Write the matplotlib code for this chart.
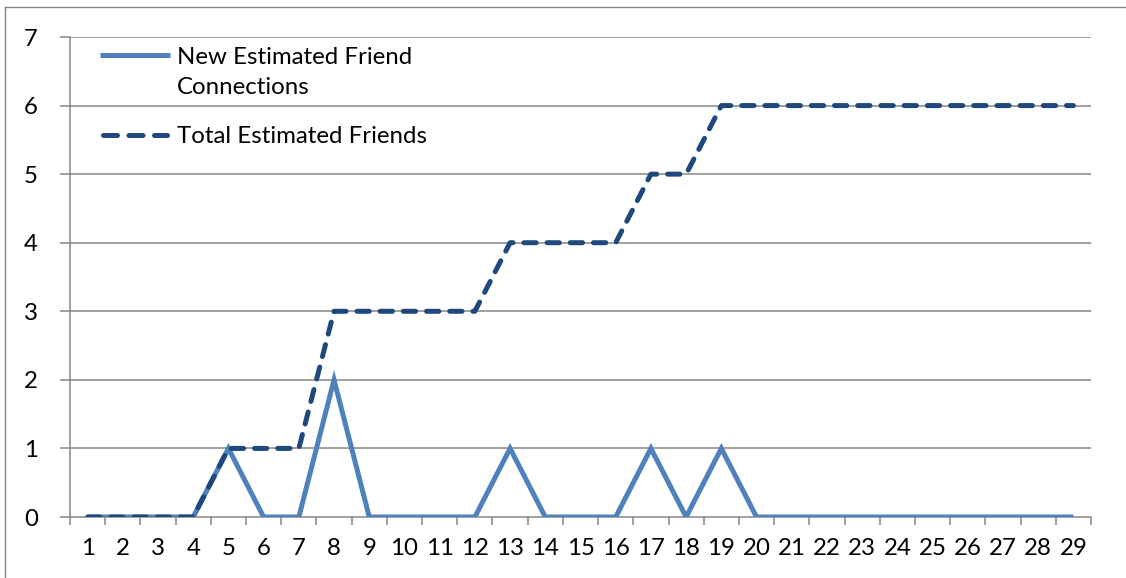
import matplotlib
matplotlib.use("Agg")
import matplotlib.pyplot as plt
from matplotlib.lines import Line2D
from matplotlib.ticker import FixedLocator

plt.rcParams['font.family'] = ['Lato', 'DejaVu Sans']

days = list(range(1, 30))
new_connections = [0, 0, 0, 0, 1, 0, 0, 2, 0, 0, 0, 0, 1, 0, 0, 0, 1, 0, 1, 0,
                   0, 0, 0, 0, 0, 0, 0, 0, 0]
total_friends = [0, 0, 0, 0, 1, 1, 1, 3, 3, 3, 3, 3, 4, 4, 4, 4, 5, 5, 6, 6,
                 6, 6, 6, 6, 6, 6, 6, 6, 6]
y_ticks = [0, 1, 2, 3, 4, 5, 6, 7]
series_labels = ['New Estimated Friend\nConnections', 'Total Estimated Friends']

W, H = 1126, 578
FS = 17.3
LW = 3.6
fig = plt.figure(figsize=(W / 100, H / 100), dpi=100)
fig.patch.set_facecolor('white')

# outer chart border (left and top edges visible)
fig.add_artist(Line2D([5 / W, 5 / W], [0, 1 - 7 / H], transform=fig.transFigure,
                      color='#868686', lw=1.0))
fig.add_artist(Line2D([5 / W, 1], [1 - 7 / H, 1 - 7 / H], transform=fig.transFigure,
                      color='#868686', lw=1.0))

ax = fig.add_axes([70 / W, 61 / H, (1091 - 70) / W, (517 - 37) / H])
ax.set_xlim(0.5, 29.5)
ax.set_ylim(0, 7)

grid_c = '#868686'
for y in y_ticks[1:]:
    ax.axhline(y, color=grid_c, lw=1.1, zorder=1)

for s in ['top', 'right']:
    ax.spines[s].set_visible(False)
for s in ['left', 'bottom']:
    ax.spines[s].set_color(grid_c)
    ax.spines[s].set_linewidth(1.1)

solid_style = dict(color='#4F81BD', lw=LW, solid_capstyle='butt', solid_joinstyle='miter')
dash_style = dict(color='#1F497D', lw=LW, linestyle=(0, (2.46, 2.18)),
                  dash_capstyle='round', dash_joinstyle='round')

ax.plot(days, new_connections, zorder=3, **solid_style)
ax.plot(days, total_friends, zorder=4, **dash_style)

ax.set_yticks(y_ticks)
ax.set_xticks(days)
ax.xaxis.set_minor_locator(FixedLocator([d + 0.5 for d in [0] + days]))
ax.tick_params(axis='x', which='major', length=0, pad=15, labelsize=FS)
ax.tick_params(axis='x', which='minor', length=6, width=1.1, color=grid_c, direction='out')
ax.tick_params(axis='y', which='major', length=7, width=1.1, color=grid_c, pad=16,
               labelsize=FS)

# legend drawn in axes fraction coordinates
tr = ax.transAxes
hx0, hx1, tx = 0.0294, 0.0979, 0.1048
cap = 2.5 / 1021  # half line width, so the dashed sample keeps within the handle
ax.add_line(Line2D([hx0, hx1], [0.9625, 0.9625], transform=tr, zorder=5, **solid_style))
ax.text(tx, 0.9625, series_labels[0].split('\n')[0], transform=tr, fontsize=FS,
        va='center_baseline', ha='left')
ax.text(tx, 0.898, series_labels[0].split('\n')[1], transform=tr, fontsize=FS,
        va='center_baseline', ha='left')
legend_dash = dict(dash_style, linestyle=(0, (2.8, 2.3)))
ax.add_line(Line2D([hx0 + cap, hx1 - cap], [0.796, 0.796], transform=tr, zorder=5,
                   **legend_dash))
ax.text(tx, 0.796, series_labels[1], transform=tr, fontsize=FS,
        va='center_baseline', ha='left')

fig.savefig('out.png', dpi=100, facecolor='white')
